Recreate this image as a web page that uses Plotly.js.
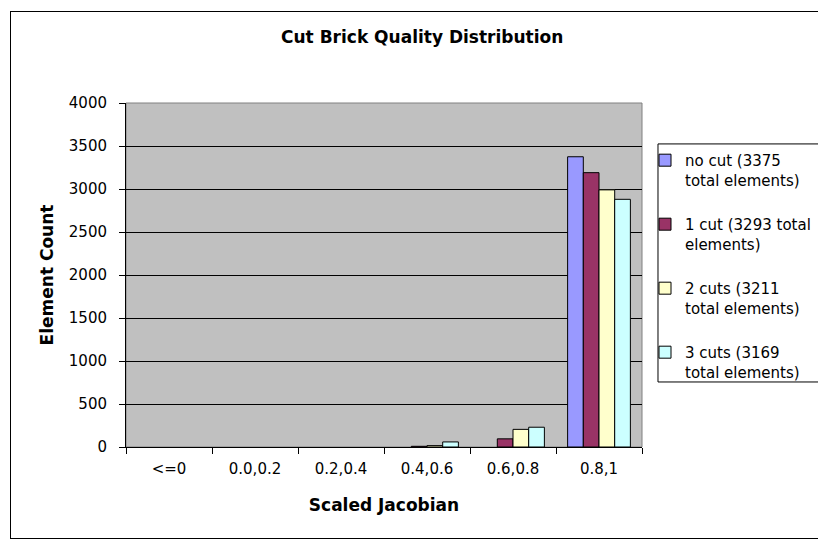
<!DOCTYPE html>
<html>
<head>
<meta charset="utf-8">
<script src="https://cdn.plot.ly/plotly-3.0.1.min.js"></script>
<style>
  html, body { margin: 0; padding: 0; background: #ffffff; overflow: hidden; }
  #frame { position: absolute; left: 10px; top: 11px; width: 830px; height: 528px; border: 1px solid #000; box-sizing: border-box; }
  #chart { position: absolute; left: 0; top: 0; width: 818px; height: 544px; }
</style>
</head>
<body>
<div id="frame"></div>
<div id="chart"></div>
<script>
const categories = ["<=0", "0.0,0.2", "0.2,0.4", "0.4,0.6", "0.6,0.8", "0.8,1"];
const seriesNames = [
  "no cut (3375<br>total elements)",
  "1 cut (3293 total<br>elements)",
  "2 cuts (3211<br>total elements)",
  "3 cuts (3169<br>total elements)"
];
const noCut   = [0, 0, 0, 0, 0, 3375];
const oneCut  = [0, 0, 0, 8, 95, 3190];
const twoCuts = [0, 0, 0, 16, 205, 2990];
const threeCuts = [0, 0, 0, 59, 230, 2880];
const yTicks = [0, 500, 1000, 1500, 2000, 2500, 3000, 3500, 4000];

const colors = ["#9999FF", "#993366", "#FFFFCC", "#CCFFFF"];
const allSeries = [noCut, oneCut, twoCuts, threeCuts];

const traces = allSeries.map((vals, i) => ({
  type: "bar",
  x: categories,
  y: vals.map(v => (v === 0 ? null : v)),
  name: seriesNames[i],
  legendgroup: "g" + i,
  marker: { color: colors[i], line: { color: "#000000", width: 1 } },
  hoverinfo: "x+y+name"
}));

const font = "DejaVu Sans, Verdana, sans-serif";

const layout = {
  width: 818,
  height: 544,
  margin: { l: 126, r: 176, t: 103, b: 97, autoexpand: false },
  paper_bgcolor: "rgba(0,0,0,0)",
  plot_bgcolor: "#C0C0C0",
  font: { family: font, size: 15, color: "#000000" },
  title: {
    text: "<b>Cut Brick Quality Distribution</b>",
    font: { family: font, size: 17, color: "#000000" },
    x: 0.574, xanchor: "center", xref: "paper",
    y: 0.932, yanchor: "middle"
  },
  barmode: "group",
  bargap: 0.27,
  bargroupgap: 0,
  showlegend: true,
  legend: {
    x: 1.0, xanchor: "left",
    y: 0.881, yanchor: "top",
    bgcolor: "rgba(0,0,0,0)",
    borderwidth: 0,
    font: { family: font, size: 15, color: "#000000" },
    valign: "top",
    tracegroupgap: 22,
    itemwidth: 30,
    traceorder: "grouped"
  },
  xaxis: {
    type: "category",
    tickson: "boundaries",
    ticks: "outside",
    ticklen: 6,
    tickcolor: "#000000",
    showline: true,
    linecolor: "#000000",
    linewidth: 1,
    showgrid: false,
    ticklabelstandoff: 8,
    tickfont: { family: font, size: 15, color: "#000000" },
    title: { text: "<b>Scaled Jacobian</b>", font: { family: font, size: 17, color: "#000000" }, standoff: 22 }
  },
  yaxis: {
    range: [0, 4000],
    tickvals: yTicks,
    ticktext: yTicks.map(String),
    ticks: "outside",
    ticklen: 6,
    tickcolor: "#000000",
    showline: true,
    linecolor: "#000000",
    linewidth: 1,
    showgrid: true,
    gridcolor: "#000000",
    gridwidth: 1,
    zeroline: false,
    ticklabelstandoff: 9,
    tickfont: { family: font, size: 15, color: "#000000" },
    title: { text: "<b>Element Count</b>", font: { family: font, size: 17, color: "#000000" }, standoff: 10 }
  },
  shapes: [
    {
      type: "rect", xref: "paper", yref: "paper", x0: 0, x1: 1, y0: 0, y1: 1,
      line: { color: "#808080", width: 1 }, fillcolor: "rgba(0,0,0,0)", layer: "below"
    },
    {
      type: "rect", xref: "paper", yref: "paper", x0: 1.031, x1: 1.4, y0: 0.189, y1: 0.881,
      line: { color: "#000000", width: 1 }, fillcolor: "#FFFFFF", layer: "above"
    }
  ]
};

Plotly.newPlot("chart", traces, layout, { displayModeBar: false, responsive: false }).then(gd => {
  // place legend so its symbols sit just inside the drawn legend box
  const lg = gd._fullLayout._size;
  const targetLeft = 645;
  const xPaper = (targetLeft - lg.l) / lg.w;
  return Plotly.relayout(gd, { "legend.x": xPaper });
});
</script>
</body>
</html>
